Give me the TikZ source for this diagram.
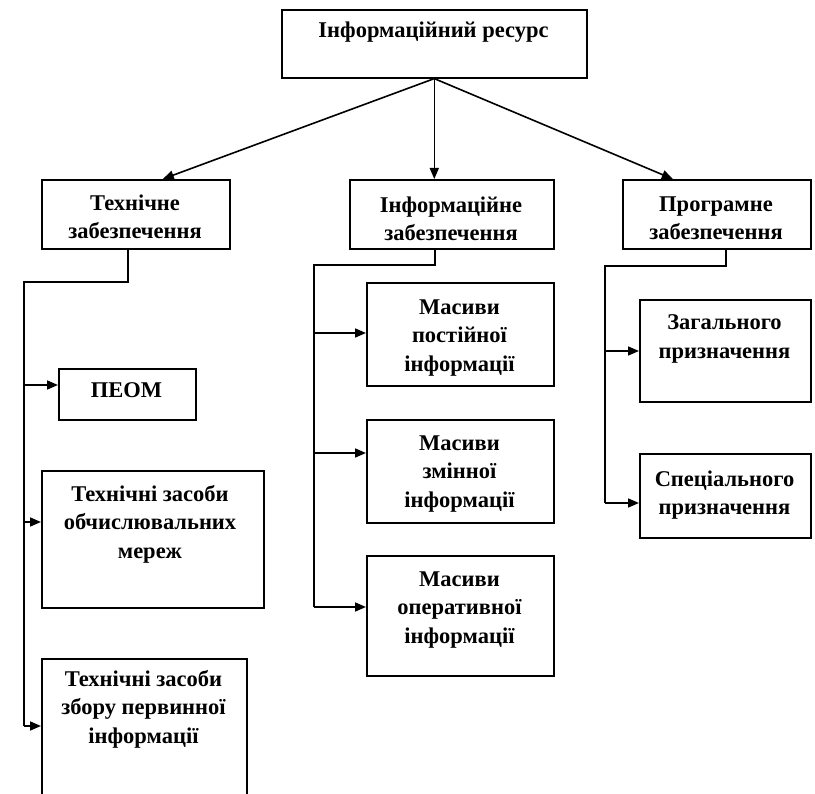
\documentclass[tikz,border=0pt]{standalone}
\usepackage{fontspec}
\setmainfont{Liberation Serif}
\usetikzlibrary{arrows.meta,calc}
\begin{document}
\begin{tikzpicture}[x=1pt,y=-1pt,
  box/.style={draw,line width=1.6pt,rectangle,inner sep=0pt,anchor=north west},
  txt/.style={align=center,inner sep=0pt,font=\fontsize{22.5}{28.5}\selectfont\bfseries},
  ln/.style={line width=1.6pt},
  arr/.style={line width=1.6pt,-{Triangle[length=11pt,width=9pt]}}]
\useasboundingbox (0,0) rectangle (815,794);
\clip (0,0) rectangle (815,794);
% boxes
\node[box,minimum width=305,minimum height=68] (top) at (281,9) {};
\node[txt] (topT) at (433.5,32) {Інформаційний ресурс};
\node[box,minimum width=188,minimum height=69] (tech) at (41,179) {};
\node[txt] (techT) at (135,217) {Технічне\\забезпечення};
\node[box,minimum width=204,minimum height=69] (info) at (349,179) {};
\node[txt] (infoT) at (451,219) {Інформаційне\\забезпечення};
\node[box,minimum width=188,minimum height=69] (prog) at (622,179) {};
\node[txt] (progT) at (716,218) {Програмне\\забезпечення};
\node[box,minimum width=137,minimum height=51] (peom) at (58,368) {};
\node[txt] (peomT) at (126.5,390) {ПЕОМ};
\node[box,minimum width=222,minimum height=137] (mer) at (41,470) {};
\node[txt] (merT) at (150,524) {Технічні засоби\\обчислювальних\\мереж};
\node[box,minimum width=205,minimum height=160] (zb) at (41,658) {};
\node[txt] (zbT) at (143.5,709) {Технічні засоби\\збору первинної\\інформації};
\node[box,minimum width=187,minimum height=103] (m1) at (366,282) {};
\node[txt] (m1T) at (459.5,338) {Масиви\\постійної\\інформації};
\node[box,minimum width=187,minimum height=103] (m2) at (366,419) {};
\node[txt] (m2T) at (459.5,474) {Масиви\\змінної\\інформації};
\node[box,minimum width=187,minimum height=120] (m3) at (366,555) {};
\node[txt] (m3T) at (459.5,610) {Масиви\\оперативної\\інформації};
\node[box,minimum width=171,minimum height=102] (zag) at (639,299) {};
\node[txt] (zagT) at (724.5,339) {Загального\\призначення};
\node[box,minimum width=171,minimum height=84] (spec) at (639,453) {};
\node[txt] (specT) at (724.5,495) {Спеціального\\призначення};
% top arrows
\draw[arr] (top.south) -- ($(tech.north)+(27,0)$);
\draw[arr] (top.south) -- (top.south |- info.north);
\draw[arr] (top.south) -- ($(prog.north)+(-44,0)$);
% left trunk
\coordinate (t1) at (24,282);
\coordinate (t2) at (24,726);
\coordinate (tp) at (24,385);
\coordinate (tm) at (24,522);
\draw[ln] ($(tech.south)+(-8,0)$) |- (t1) -- (t2);
\draw[arr] (tp) -- (tp -| peom.west);
\draw[arr] (tm) -- (tm -| mer.west);
\draw[arr] (t2) -- (t2 -| zb.west);
% middle trunk
\coordinate (c1) at (314,265);
\coordinate (c2) at (314,607);
\coordinate (ca) at (314,333);
\coordinate (cb) at (314,453);
\draw[ln] ($(info.south)+(-17,0)$) |- (c1) -- (c2);
\draw[arr] (ca) -- (ca -| m1.west);
\draw[arr] (cb) -- (cb -| m2.west);
\draw[arr] (c2) -- (c2 -| m3.west);
% right trunk
\coordinate (r1) at (605,266);
\coordinate (r2) at (605,503);
\coordinate (ra) at (605,351);
\draw[ln] ($(prog.south)+(9,0)$) |- (r1) -- (r2);
\draw[arr] (ra) -- (ra -| zag.west);
\draw[arr] (r2) -- (r2 -| spec.west);
\end{tikzpicture}
\end{document}
